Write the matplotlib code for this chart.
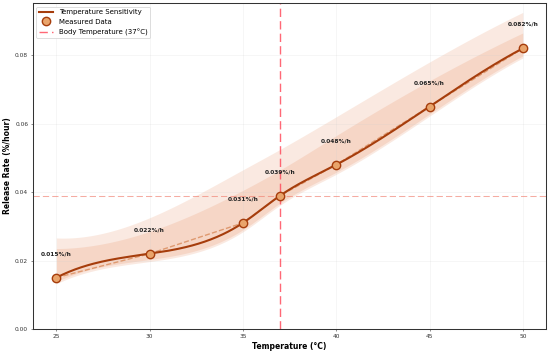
import numpy as np
import matplotlib.pyplot as plt

# measured release rates
temps = [25, 30, 35, 37, 40, 45, 50]
rates = [0.015, 0.022, 0.031, 0.039, 0.048, 0.065, 0.082]
labels = ['0.015%/h', '0.022%/h', '0.031%/h', '0.039%/h', '0.048%/h', '0.065%/h', '0.082%/h']

inner_hi = [0.0235, 0.0285, 0.0405, 0.0465, 0.0565, 0.0725, 0.0865]
outer_hi = [0.0266, 0.0325, 0.0465, 0.0525, 0.0620, 0.0780, 0.0925]
band_lo = [0.0138, 0.0203, 0.0290, 0.0368, 0.0458, 0.0628, 0.0798]

body_temp = 37
body_rate = 0.039


def spline(x, y, xs):
    # cubic spline, not-a-knot ends
    x = np.asarray(x, float)
    y = np.asarray(y, float)
    n = len(x) - 1
    h = np.diff(x)
    A = np.zeros((n + 1, n + 1))
    b = np.zeros(n + 1)
    A[0, 0], A[0, 1], A[0, 2] = h[1], -(h[0] + h[1]), h[0]
    A[n, n - 2], A[n, n - 1], A[n, n] = h[n - 1], -(h[n - 2] + h[n - 1]), h[n - 2]
    for i in range(1, n):
        A[i, i - 1] = h[i - 1]
        A[i, i] = 2 * (h[i - 1] + h[i])
        A[i, i + 1] = h[i]
        b[i] = 6 * ((y[i + 1] - y[i]) / h[i] - (y[i] - y[i - 1]) / h[i - 1])
    M = np.linalg.solve(A, b)
    idx = np.clip(np.searchsorted(x, xs) - 1, 0, n - 1)
    x0, x1 = x[idx], x[idx + 1]
    hh = x1 - x0
    return (M[idx] * (x1 - xs) ** 3 / (6 * hh) + M[idx + 1] * (xs - x0) ** 3 / (6 * hh)
            + (y[idx] / hh - M[idx] * hh / 6) * (x1 - xs)
            + (y[idx + 1] / hh - M[idx + 1] * hh / 6) * (xs - x0))


xs = np.linspace(min(temps), max(temps), 300)
smooth = spline(temps, rates, xs)

fig, ax = plt.subplots(figsize=(11, 7.06), dpi=50)
fig.subplots_adjust(left=0.06, right=0.993, bottom=0.068, top=0.991)

ax.fill_between(xs, spline(temps, band_lo, xs) - 0.0006, spline(temps, outer_hi, xs),
                color='#E8956A', alpha=0.2, lw=0)
ax.fill_between(xs, spline(temps, band_lo, xs), spline(temps, inner_hi, xs),
                color='#E8956A', alpha=0.22, lw=0)

ax.plot(temps, rates, '--', color='#D98A5A', lw=2, alpha=0.8)
ax.plot(xs, smooth, color='#A63D0C', lw=3, label='Temperature Sensitivity')
ax.plot(temps, rates, 'o', ms=12, mfc='#E9A46B', mec='#A63D0C', mew=2,
        label='Measured Data', zorder=5)

ax.axvline(body_temp, color='#FF4D5E', ls='--', lw=2, alpha=0.85,
           dashes=(6, 3), label='Body Temperature (37°C)')
ax.axhline(body_rate, color='#F08070', ls='--', lw=1.5, alpha=0.65, dashes=(6, 3))

for t, r, s in zip(temps, rates, labels):
    ax.text(t, r + 0.007, s, ha='center', va='center', fontsize=8.5,
            fontweight='bold', color='#222222')

ax.set_xlim(23.75, 51.25)
ax.set_ylim(0, 0.0952)
ax.set_xticks([25, 30, 35, 40, 45, 50])
ax.set_yticks([0, 0.02, 0.04, 0.06, 0.08])
ax.yaxis.set_major_formatter(plt.FormatStrFormatter('%.2f'))
ax.tick_params(labelsize=8.5, colors='#333333')
ax.grid(True, color='#cccccc', alpha=0.3, lw=0.8)
for sp in ax.spines.values():
    sp.set_color('#333333')
    sp.set_linewidth(1.5)

ax.set_xlabel('Temperature (°C)', fontsize=11, fontweight='bold')
ax.set_ylabel('Release Rate (%/hour)', fontsize=11, fontweight='bold')
ax.legend(loc='upper left', fontsize=10, framealpha=0.9, edgecolor='#cccccc')

plt.savefig('out.png', dpi=50)
